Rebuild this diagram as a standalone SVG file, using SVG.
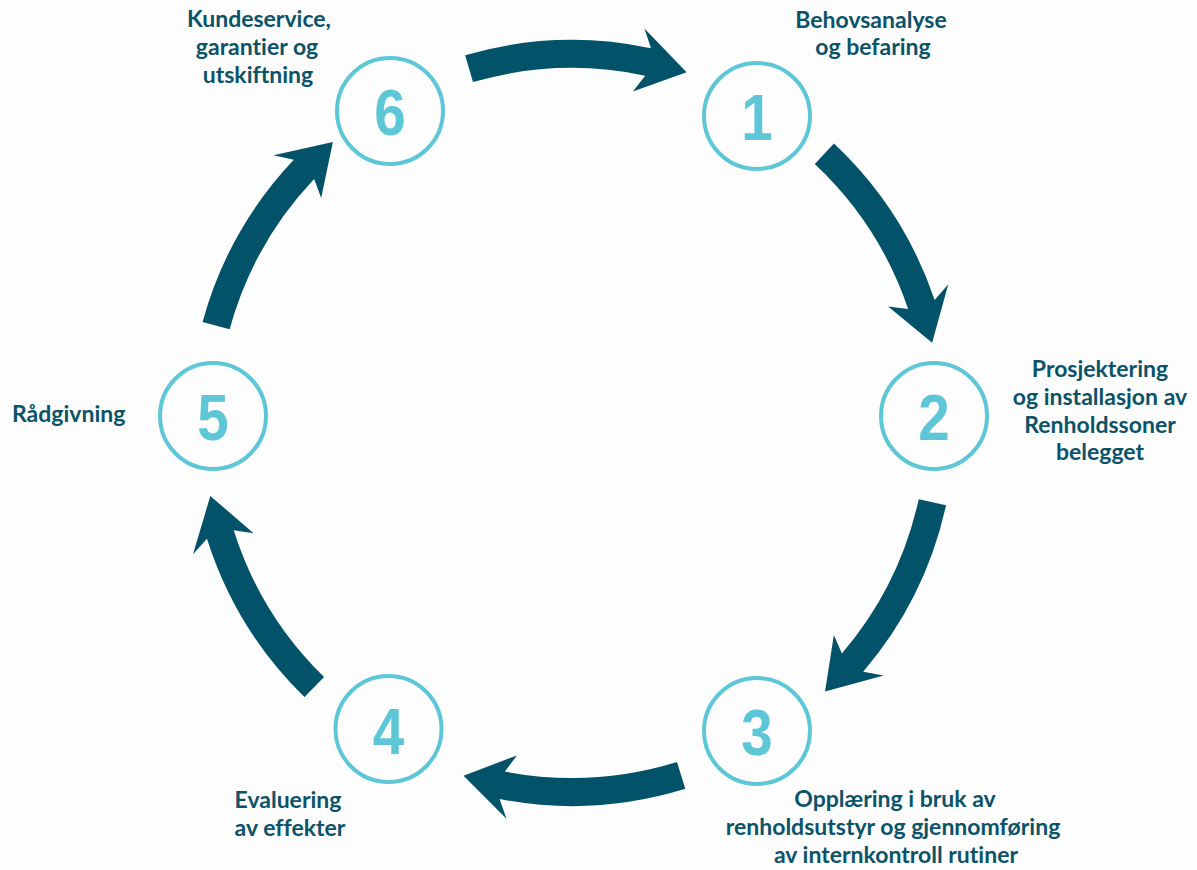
<svg xmlns="http://www.w3.org/2000/svg" width="1197" height="870" viewBox="0 0 1197 870">
<style>
.lbl{font-family:Lato,"Open Sans","Liberation Sans",sans-serif;font-weight:700;font-size:23px;fill:#0b5368;font-variant-ligatures:none}
.ring{fill:none;stroke:#5ec7d7;stroke-width:4}
.num{font-family:"Liberation Sans",Arial,sans-serif;font-weight:700;font-size:65px;fill:#5ec7d7;text-anchor:middle}
.arrow{fill:#02526a}
</style>
<defs>
<path id="arr" d="M383,0 A383,383 0 0 1 337.8,180.4 L358.6,179.6 L304.8,207.9 L301.3,150.9 L313.1,167.2 A355,355 0 0 0 355,0 Z"/>
</defs>
<rect width="1197" height="870" fill="#fdfdfd"/>
<g id="connectors" class="arrow">
<use href="#arr" transform="translate(572,423) rotate(-106.2)"/>
<use href="#arr" transform="translate(572,423) rotate(-46.85)"/>
<use href="#arr" transform="translate(572,423) rotate(12.4)"/>
<use href="#arr" transform="translate(572,423) rotate(72.8)"/>
<use href="#arr" transform="translate(572,423) rotate(134.3)"/>
<use href="#arr" transform="translate(572,423) rotate(-164.7)"/>
</g>
<g id="node1">
<circle class="ring" cx="757" cy="116" r="53"/>
<text class="num" transform="translate(757,140) scale(0.87,1)">1</text>
<text class="lbl" text-anchor="middle"><tspan x="871" y="28">Behovsanalyse</tspan><tspan x="873" y="55">og befaring</tspan></text>
</g>
<g id="node2">
<circle class="ring" cx="934" cy="416" r="53"/>
<text class="num" transform="translate(934,440) scale(0.87,1)">2</text>
<text class="lbl" text-anchor="middle"><tspan x="1100" y="377">Prosjektering</tspan><tspan x="1100" y="405">og installasjon av</tspan><tspan x="1100" y="433">Renholdssoner</tspan><tspan x="1100" y="460">belegget</tspan></text>
</g>
<g id="node3">
<circle class="ring" cx="757" cy="731" r="53"/>
<text class="num" transform="translate(757,755) scale(0.87,1)">3</text>
<text class="lbl" text-anchor="middle"><tspan x="895" y="807">Opplæring i bruk av</tspan><tspan x="893" y="835">renholdsutstyr og gjennomføring</tspan><tspan x="896" y="863">av internkontroll rutiner</tspan></text>
</g>
<g id="node4">
<circle class="ring" cx="388.5" cy="729" r="53"/>
<text class="num" transform="translate(388.5,754) scale(0.87,1)">4</text>
<text class="lbl" text-anchor="middle"><tspan x="288" y="808">Evaluering</tspan><tspan x="290" y="836">av effekter</tspan></text>
</g>
<g id="node5">
<circle class="ring" cx="213" cy="416" r="53"/>
<text class="num" transform="translate(213,440) scale(0.87,1)">5</text>
<text class="lbl" x="12" y="422">Rådgivning</text>
</g>
<g id="node6">
<circle class="ring" cx="390" cy="111" r="53"/>
<text class="num" transform="translate(390,135) scale(0.87,1)">6</text>
<text class="lbl" text-anchor="middle"><tspan x="259" y="27">Kundeservice,</tspan><tspan x="257" y="55">garantier og</tspan><tspan x="258" y="83">utskiftning</tspan></text>
</g>
</svg>
